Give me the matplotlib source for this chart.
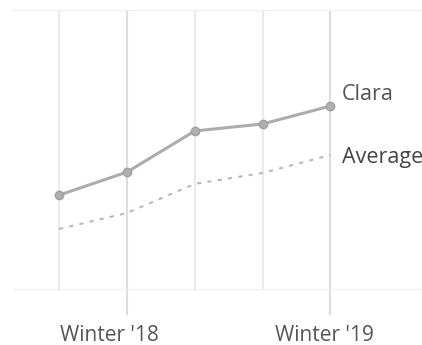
import matplotlib
matplotlib.use("Agg")
import matplotlib.pyplot as plt
from matplotlib.transforms import ScaledTranslation

# Seasons along the x axis; only two carry a printed label
seasons = ["", "Winter '18", "", "", "Winter '19"]
labeled_idx = [1, 4]
unlabeled_idx = [0, 2, 3]

# Scores per season
clara = [33.9, 42.1, 56.8, 59.3, 65.7]
average = [21.8, 27.5, 37.9, 41.8, 48.2]

plt.rcParams["font.family"] = ["Open Sans", "DejaVu Sans"]

W, H = 422, 345
fig = plt.figure(figsize=(W / 100, H / 100), dpi=100)
ax = fig.add_axes([13 / W, 55 / H, (W - 13) / W, 280 / H])

x = list(range(len(seasons)))

ax.plot(x, average, color="#b8b8b8", lw=1.5, linestyle=(0, (2, 3)),
        solid_capstyle="butt", zorder=3)
ax.plot(x, clara, color="#acacac", lw=2.2, marker="o", markersize=6,
        markerfacecolor="#b0b0b0", markeredgecolor="#a0a0a0", zorder=4)

ax.annotate("Clara", (x[-1], clara[-1]), xytext=(8, 8), textcoords="offset points",
            ha="left", va="center", fontsize=15.5, color="#555555")
ax.annotate("Average", (x[-1], average[-1]), xytext=(8, -2), textcoords="offset points",
            ha="left", va="center", fontsize=15.5, color="#444444")

ax.set_xlim(-0.68, 5.35)
ax.set_ylim(0, 100)

ax.set_xticks(labeled_idx)
ax.set_xticklabels([seasons[i] for i in labeled_idx])
ax.set_xticks(unlabeled_idx, minor=True)
ax.tick_params(axis="x", which="major", length=18, width=1.5, color="#dddddd",
               pad=7, labelsize=15, labelcolor="#555555")
ax.tick_params(axis="x", which="minor", length=0)

# nudge each season label slightly left of its tick
for lbl, dx_px in zip(ax.get_xticklabels(), [-18, -6]):
    lbl.set_transform(lbl.get_transform() +
                      ScaledTranslation(dx_px / 100, 0, fig.dpi_scale_trans))

ax.set_yticks([0, 100])
ax.set_yticklabels([])
ax.tick_params(axis="y", length=0)

ax.grid(axis="x", which="major", color="#dddddd", lw=1.5)
ax.grid(axis="x", which="minor", color="#ebebeb", lw=1.5)
ax.grid(axis="y", color="#eeeeee", lw=1.5)
ax.set_axisbelow(True)
for s in ax.spines.values():
    s.set_visible(False)

fig.savefig("out.png", dpi=100)
